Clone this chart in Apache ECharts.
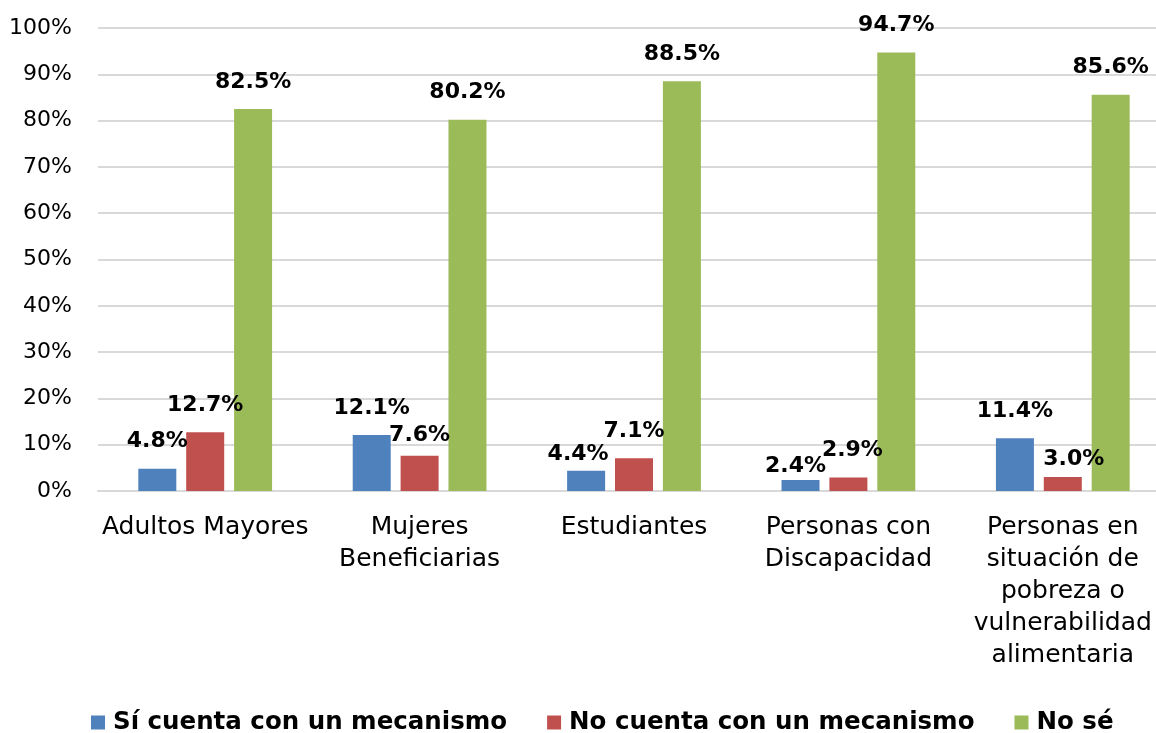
<!DOCTYPE html>
<html>
<head>
<meta charset="utf-8">
<script src="https://cdn.jsdelivr.net/npm/echarts@6/dist/echarts.min.js"></script>
<style>
html,body{margin:0;padding:0;background:#fff;}
#c{width:1156px;height:733px;}
</style>
</head>
<body>
<div id="c"></div>
<script>
const categories = [
  "Adultos Mayores",
  "Mujeres\nBeneficiarias",
  "Estudiantes",
  "Personas con\nDiscapacidad",
  "Personas en\nsituación de\npobreza o\nvulnerabilidad\nalimentaria"
];
const seriesNames = ["Sí cuenta con un mecanismo", "No cuenta con un mecanismo", "No sé"];
const siCuenta = [4.8, 12.1, 4.4, 2.4, 11.4];
const noCuenta = [12.7, 7.6, 7.1, 2.9, 3.0];
const noSe = [82.5, 80.2, 88.5, 94.7, 85.6];
const yTicks = [0, 10, 20, 30, 40, 50, 60, 70, 80, 90, 100];

// label nudges [dx, dy] (layout only)
const labelNudges = [
  [[0,0],[0,0],[-8,11],[-5,13],[0,0]],
  [[0,0],[0,6],[0,0],[4,0],[11,9]],
  [[0,0],[0,0],[0,0],[0,0],[0,0]]
];
const colors = ["#4F81BD", "#C0504D", "#9BBB59"];
const values = [siCuenta, noCuenta, noSe];

const FONT = "DejaVu Sans";
const chart = echarts.init(document.getElementById('c'));
chart.setOption({
  animation: false,
  grid: {left: 98, width: 1072, top: 28, bottom: 242, containLabel: false, outerBoundsMode: 'none'},
  legend: {
    data: seriesNames,
    top: 705,
    left: 86,
    icon: 'rect',
    itemWidth: 14,
    itemHeight: 14,
    itemGap: 40,
    textStyle: {fontFamily: FONT, fontWeight: 'bold', fontSize: 24.5, color: '#000', padding: [0,0,0,3]}
  },
  xAxis: {
    type: 'category',
    data: categories,
    axisTick: {show: false},
    axisLine: {lineStyle: {color: '#D9D9D9', width: 2}},
    axisLabel: {
      interval: 0,
      margin: 20,
      fontFamily: FONT,
      fontSize: 25,
      lineHeight: 32,
      color: '#000',
      verticalAlign: 'top'
    }
  },
  yAxis: {
    type: 'value',
    min: yTicks[0],
    max: yTicks[yTicks.length - 1],
    interval: 10,
    axisLine: {show: false},
    axisTick: {show: false},
    splitLine: {lineStyle: {color: '#D9D9D9', width: 2}},
    axisLabel: {
      formatter: '{value}%',
      margin: 26,
      fontFamily: FONT,
      fontSize: 22,
      color: '#000'
    }
  },
  series: seriesNames.map((name, si) => ({
    name: name,
    type: 'bar',
    barWidth: 38,
    barGap: '26%',
    itemStyle: {color: colors[si]},
    label: {
      show: true,
      position: 'top',
      distance: 16,
      fontFamily: FONT,
      fontWeight: 'bold',
      fontSize: 22,
      color: '#000',
      formatter: p => p.value.toFixed(1) + '%'
    },
    data: values[si].map((v, ci) => ({
      value: v,
      label: {offset: labelNudges[si][ci]}
    }))
  }))
});
</script>
</body>
</html>
